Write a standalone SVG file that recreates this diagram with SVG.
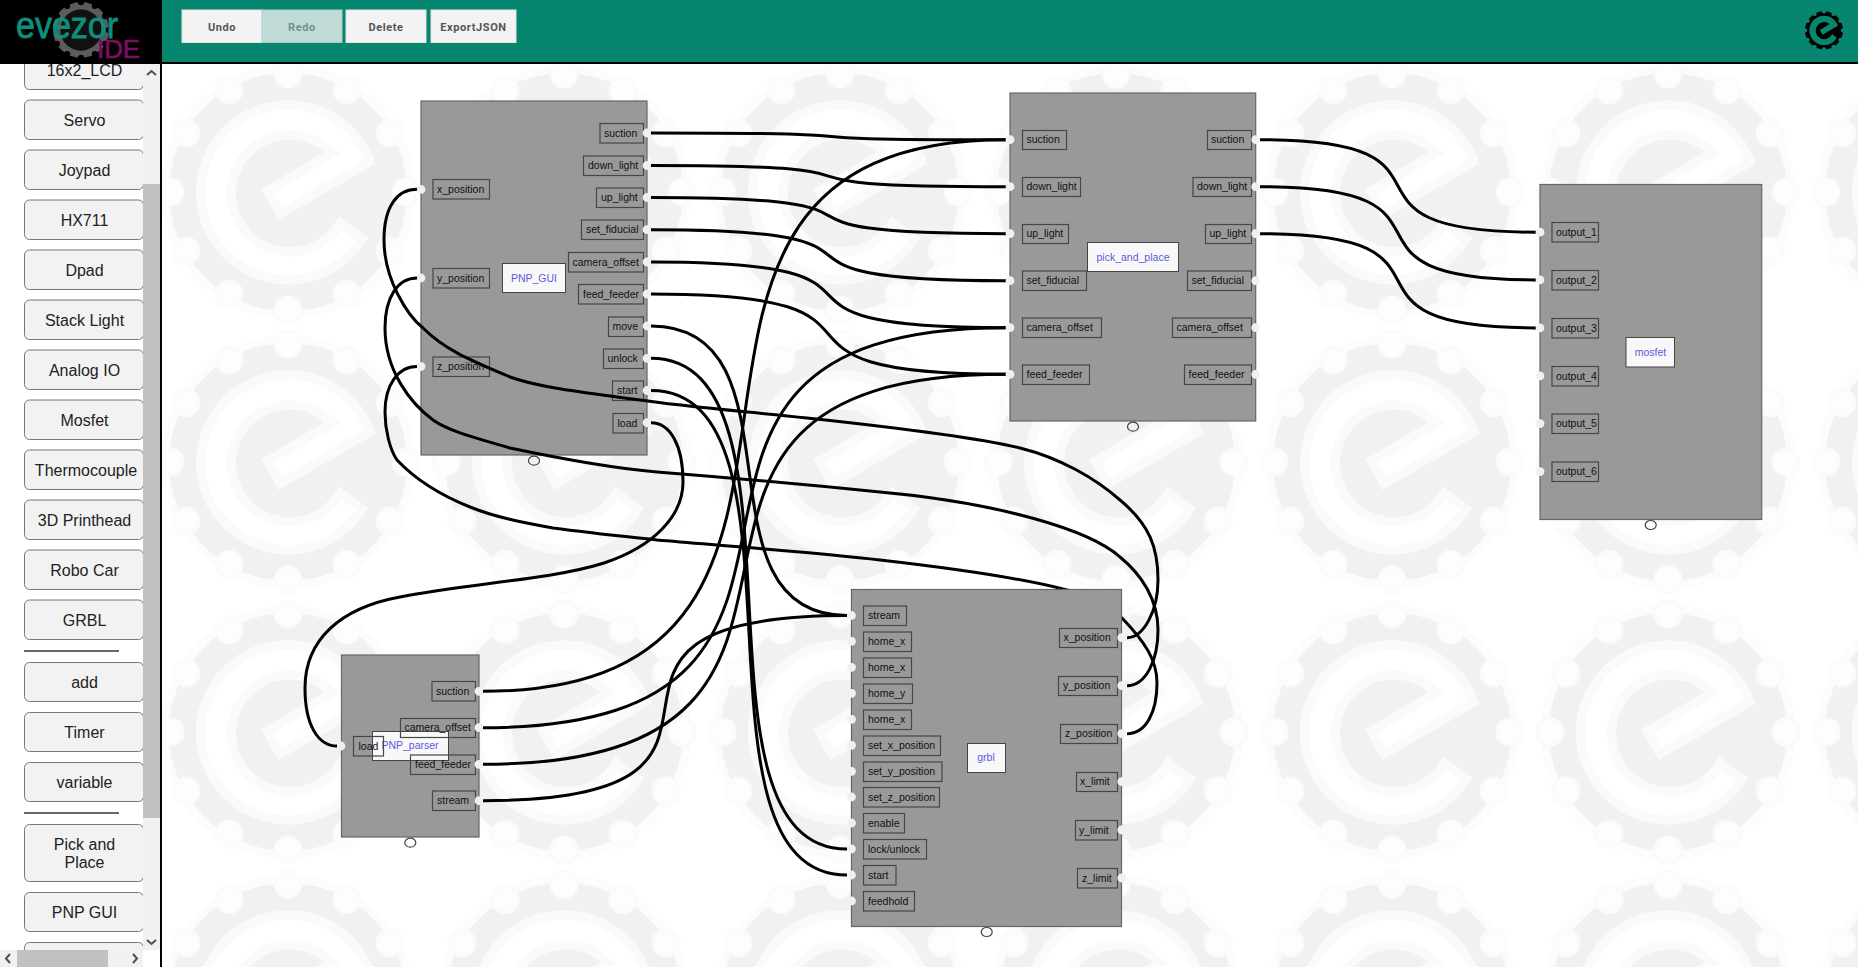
<svg xmlns="http://www.w3.org/2000/svg" xmlns:xlink="http://www.w3.org/1999/xlink" width="1858" height="967" viewBox="0 0 1858 967">
<style>
text{font-family:"Liberation Sans",Arial,sans-serif}
.block{fill:#999;stroke:#666;stroke-width:1.2}
.lb{fill:none;stroke:#474747;stroke-width:1.2}
.lt{font-size:10.5px;fill:#111}
.title{fill:#f8f8f8;stroke:#444;stroke-width:1}
.tt{font-size:10.5px;fill:#5a5add;text-anchor:middle}
.port{fill:#f0f0f0}
.handle{fill:none;stroke:#444;stroke-width:1.200}
.wire{fill:none;stroke:#000;stroke-width:3}
.sb{fill:#f2f2f2;stroke:#777;stroke-width:1}
.st{font-size:16px;fill:#222;text-anchor:middle}
.hb{fill:#f3f3f3;stroke:#e4e4e4;stroke-width:1}
.ht{font-family:Roboto,"Liberation Sans",sans-serif;font-size:11px;font-weight:700;fill:#555;text-anchor:middle;letter-spacing:.6px}
.chev{fill:none;stroke:#505050;stroke-width:2}
</style>
<defs>
<path id="ePath" d="M80 46A92 92 0 1 1 87.5 -28.3L-9.4 27.7L-26.8 -2.3L36.7 -40A54 54 0 1 0 50.8 24.3Z"/>
<clipPath id="eClip"><use xlink:href="#ePath" href="#ePath"/></clipPath>
<g id="teeth">
<circle cx="0" cy="-118" r="13"/><circle cx="59" cy="-102.2" r="13"/><circle cx="102.2" cy="-59" r="13"/><circle cx="118" cy="0" r="13"/><circle cx="102.2" cy="59" r="13"/><circle cx="59" cy="102.2" r="13"/><circle cx="0" cy="118" r="13"/><circle cx="-59" cy="102.2" r="13"/><circle cx="-102.2" cy="59" r="13"/><circle cx="-118" cy="0" r="13"/><circle cx="-102.2" cy="-59" r="13"/><circle cx="-59" cy="-102.2" r="13"/>
</g>
<pattern id="wm" patternUnits="userSpaceOnUse" x="150" y="57" width="276" height="270">
<g transform="translate(138 135)">
<circle r="127" fill="#fcfcfc"/>
<circle r="119" fill="#f1f1f1"/>
<use xlink:href="#teeth" href="#teeth" fill="#fdfdfd" stroke="#fbfbfb" stroke-width="3"/>
<use xlink:href="#ePath" href="#ePath" fill="#fff"/>
<g clip-path="url(#eClip)"><use xlink:href="#ePath" href="#ePath" fill="none" stroke="#fafafa" stroke-width="18"/></g>
</g>
</pattern>
</defs>

<rect id="canvas" x="162" y="64" width="1696" height="903" fill="#fff"/>
<rect x="162" y="64" width="1696" height="903" fill="url(#wm)"/>

<g id="sidebar">
<rect x="0" y="40" width="160" height="927" fill="#fff"/>
<g id="btn-lcd"><rect class="sb" x="24.5" y="50" width="119" height="39.5" rx="5"/><text class="st" x="84.5" y="76">16x2_LCD</text></g>
<g id="btn-servo"><rect class="sb" x="24.5" y="100" width="119" height="39.5" rx="5"/><text class="st" x="84.5" y="126">Servo</text></g>
<g id="btn-joypad"><rect class="sb" x="24.5" y="150" width="119" height="39.5" rx="5"/><text class="st" x="84.5" y="176">Joypad</text></g>
<g id="btn-hx711"><rect class="sb" x="24.5" y="200" width="119" height="39.5" rx="5"/><text class="st" x="84.5" y="226">HX711</text></g>
<g id="btn-dpad"><rect class="sb" x="24.5" y="250" width="119" height="39.5" rx="5"/><text class="st" x="84.5" y="276">Dpad</text></g>
<g id="btn-stack"><rect class="sb" x="24.5" y="300" width="119" height="39.5" rx="5"/><text class="st" x="84.5" y="326">Stack Light</text></g>
<g id="btn-analog"><rect class="sb" x="24.5" y="350" width="119" height="39.5" rx="5"/><text class="st" x="84.5" y="376">Analog IO</text></g>
<g id="btn-mosfet"><rect class="sb" x="24.5" y="400" width="119" height="39.5" rx="5"/><text class="st" x="84.5" y="426">Mosfet</text></g>
<g id="btn-thermo"><rect class="sb" x="24.5" y="450" width="119" height="39.5" rx="5"/><text class="st" x="86" y="476">Thermocouple</text></g>
<g id="btn-3d"><rect class="sb" x="24.5" y="500" width="119" height="39.5" rx="5"/><text class="st" x="84.5" y="526">3D Printhead</text></g>
<g id="btn-robo"><rect class="sb" x="24.5" y="550" width="119" height="39.5" rx="5"/><text class="st" x="84.5" y="576">Robo Car</text></g>
<g id="btn-grbl"><rect class="sb" x="24.5" y="600" width="119" height="39.5" rx="5"/><text class="st" x="84.5" y="626">GRBL</text></g>
<rect x="24" y="650" width="95" height="2" fill="#666"/>
<g id="btn-add"><rect class="sb" x="24.5" y="662.5" width="119" height="39" rx="5"/><text class="st" x="84.5" y="688">add</text></g>
<g id="btn-timer"><rect class="sb" x="24.5" y="712.5" width="119" height="39" rx="5"/><text class="st" x="84.5" y="738">Timer</text></g>
<g id="btn-variable"><rect class="sb" x="24.5" y="762.5" width="119" height="39" rx="5"/><text class="st" x="84.5" y="788">variable</text></g>
<rect x="24" y="812" width="95" height="2" fill="#666"/>
<g id="btn-pick"><rect class="sb" x="24.5" y="824.5" width="119" height="57" rx="5"/><text class="st" x="84.5" y="850">Pick and</text><text class="st" x="84.5" y="868">Place</text></g>
<g id="btn-pnp"><rect class="sb" x="24.5" y="892.5" width="119" height="39" rx="5"/><text class="st" x="84.5" y="918">PNP GUI</text></g>
<rect class="sb" x="24.5" y="942.5" width="119" height="39" rx="5"/>
<rect x="143" y="64" width="17" height="886" fill="#f1f1f1"/>
<rect x="143" y="184" width="17" height="634" fill="#c1c1c1"/>
<path class="chev" d="M147 75L151.500 71L156 75"/>
<path class="chev" d="M147 940L151.500 944L156 940"/>
<rect x="0" y="950" width="143" height="17" fill="#f1f1f1"/>
<rect x="143" y="950" width="17" height="17" fill="#fff"/>
<rect x="17" y="950" width="91" height="17" fill="#c1c1c1"/>
<path class="chev" d="M10 954L6 958.500L10 963"/>
<path class="chev" d="M133 954L137 958.500L133 963"/>
<rect x="160" y="64" width="2" height="903" fill="#000"/>
</g>

<g id="header">
<rect x="0" y="0" width="1858" height="62" fill="#07866f"/>
<rect x="0" y="62" width="1858" height="2" fill="#000"/>
<rect x="0" y="0" width="162" height="63" fill="#000"/>
<g id="logo">
<g transform="translate(81 30) scale(.235)"><circle r="119" fill="#5c5c5c"/><use xlink:href="#teeth" href="#teeth" fill="#000"/><circle r="88" fill="#111"/></g>
<text x="16" y="38" font-size="36" fill="#0d8f7c" stroke="#0d8f7c" stroke-width=".8" textLength="102" lengthAdjust="spacingAndGlyphs">evezor</text>
<text x="97" y="58" font-size="25" fill="#7d0f63" stroke="#7d0f63" stroke-width=".6" textLength="43" lengthAdjust="spacingAndGlyphs">IDE</text>
</g>
<g id="btn-undo"><rect class="hb" x="182" y="10" width="80" height="32.500"/><text class="ht" x="222" y="31">Undo</text></g>
<g id="btn-redo"><rect x="262" y="10" width="80" height="32.500" fill="#c1dcd6" stroke="#a9cdc5"/><text class="ht" x="302" y="31" style="fill:#6f918a">Redo</text></g>
<g id="btn-delete"><rect class="hb" x="346" y="10" width="80" height="32.500"/><text class="ht" x="386" y="31">Delete</text></g>
<g id="btn-export"><rect class="hb" x="431" y="10" width="85" height="32.500"/><text class="ht" x="473.500" y="31">ExportJSON</text></g>
<g id="icon" transform="translate(1824 30.400) scale(.16)"><circle r="119" fill="#000"/><use xlink:href="#teeth" href="#teeth" fill="#07866f"/><use xlink:href="#ePath" href="#ePath" fill="#07866f"/></g>
</g>

<g id="node-PNP_GUI">
<rect class="block" x="421" y="101" width="226" height="354"/>
<rect class="title" x="502.500" y="263.500" width="63" height="29"/><text class="tt" x="534" y="281.500">PNP_GUI</text>
<rect class="lb" x="433" y="179.500" width="56.500" height="19.500"/><text class="lt" x="437" y="192.500">x_position</text>
<rect class="lb" x="433" y="268.500" width="56.500" height="19.500"/><text class="lt" x="437" y="281.500">y_position</text>
<rect class="lb" x="433" y="357" width="56.500" height="19.500"/><text class="lt" x="437" y="370">z_position</text>
<rect class="lb" x="600" y="123.500" width="43.500" height="19.500"/><text class="lt" x="604" y="136.500">suction</text>
<rect class="lb" x="583.500" y="156" width="60" height="19.500"/><text class="lt" x="588" y="169">down_light</text>
<rect class="lb" x="596.500" y="188" width="47" height="19.500"/><text class="lt" x="601" y="201">up_light</text>
<rect class="lb" x="581.500" y="220" width="62" height="19.500"/><text class="lt" x="586" y="233">set_fiducial</text>
<rect class="lb" x="568.500" y="252.500" width="75" height="19.500"/><text class="lt" x="572.500" y="265.500">camera_offset</text>
<rect class="lb" x="578.500" y="284.500" width="65" height="19.500"/><text class="lt" x="583" y="297.500">feed_feeder</text>
<rect class="lb" x="608.500" y="317" width="35" height="19.500"/><text class="lt" x="612.500" y="330">move</text>
<rect class="lb" x="603.500" y="349" width="40" height="19.500"/><text class="lt" x="607.500" y="362">unlock</text>
<rect class="lb" x="612.500" y="381" width="31" height="19.500"/><text class="lt" x="617" y="394">start</text>
<rect class="lb" x="613" y="413.500" width="30.500" height="19.500"/><text class="lt" x="617.500" y="426.500">load</text>
<circle class="port" cx="421" cy="189.300" r="4.400"/><circle class="port" cx="421" cy="278" r="4.400"/><circle class="port" cx="421" cy="366.500" r="4.400"/>
<circle class="port" cx="647" cy="133" r="4.400"/><circle class="port" cx="647" cy="165.500" r="4.400"/><circle class="port" cx="647" cy="197.500" r="4.400"/><circle class="port" cx="647" cy="229.700" r="4.400"/><circle class="port" cx="647" cy="262" r="4.400"/><circle class="port" cx="647" cy="294" r="4.400"/><circle class="port" cx="647" cy="326" r="4.400"/><circle class="port" cx="647" cy="358.300" r="4.400"/><circle class="port" cx="647" cy="390.500" r="4.400"/><circle class="port" cx="647" cy="422.700" r="4.400"/>
<ellipse class="handle" cx="534" cy="460.700" rx="5.500" ry="4.500"/>
</g>

<g id="node-PNP_parser">
<rect class="block" x="341.500" y="655" width="137.500" height="182"/>
<rect class="title" x="372.500" y="731.500" width="76" height="29"/><text class="tt" x="410" y="749">PNP_parser</text>
<rect class="lb" x="353.500" y="736.500" width="30" height="19.500"/><text class="lt" x="358.500" y="749.500">load</text>
<rect class="lb" x="432" y="681.500" width="43.500" height="19.500"/><text class="lt" x="436" y="695">suction</text>
<rect class="lb" x="400.500" y="718.500" width="75" height="19"/><text class="lt" x="404.500" y="731">camera_offset</text>
<rect class="lb" x="410.500" y="755" width="65" height="19.500"/><text class="lt" x="415" y="768">feed_feeder</text>
<rect class="lb" x="432.500" y="791" width="43" height="19.500"/><text class="lt" x="437" y="804">stream</text>
<circle class="port" cx="341" cy="746" r="4.400"/>
<circle class="port" cx="479" cy="691.300" r="4.400"/><circle class="port" cx="479" cy="727.700" r="4.400"/><circle class="port" cx="479" cy="764.300" r="4.400"/><circle class="port" cx="479" cy="800.700" r="4.400"/>
<ellipse class="handle" cx="410.300" cy="842.700" rx="5.500" ry="4.500"/>
</g>

<g id="connectors">
<path class="wire" d="M651 133C941 133 716 139.700 1006 139.700"/>
<path class="wire" d="M651 165.500C941 165.500 716 186.700 1006 186.700"/>
<path class="wire" d="M651 197.500C941 197.500 716 233.700 1006 233.700"/>
<path class="wire" d="M651 229.700C941 229.700 716 280.700 1006 280.700"/>
<path class="wire" d="M651 262C941 262 716 327.700 1006 327.700"/>
<path class="wire" d="M651 294C936 294 721 374.300 1006 374.300"/>
<path class="wire" d="M483 691.300C928 691.300 561 139.700 1006 139.700"/>
<path class="wire" d="M483 727.700C928 727.700 561 327.700 1006 327.700"/>
<path class="wire" d="M483 764.300C928 764.300 561 374.300 1006 374.300"/>
<path class="wire" d="M483 800.700C818 800.700 512 615.500 847 615.500"/>
<path class="wire" d="M651 326C808 326 690 615.500 847 615.500"/>
<path class="wire" d="M651 358.300C821 358.300 677 849 847 849"/>
<path class="wire" d="M651 390.500C821 390.500 677 875 847 875"/>
<path class="wire" d="M651 422.700C670 422.700 683 445 683 482C683 515 655 546 604 563C550 580 470 583 400 597C340 608 305 640 305 688C305 725 318 746 337 746"/>
<path class="wire" d="M1127 637.700C1143 637.700 1158 612 1158 580C1158 548 1150 525 1120 500C1095 478 1060 458 1020 448C980 438 900 428 807 418C740 411 680 406 640 400C590 393 540 388 510 377C470 360 445 350 423 328C408 316 384 280 384 240C384 205 398 189.300 417 189.300"/>
<path class="wire" d="M1127 685.700C1146 685.700 1158 660 1158 630C1158 600 1142 575 1120 557C1090 530 1000 503 880 492C800 484 720 477 657 472C610 468 567 460 510 448C480 439 450 432 433 420C410 403 385 370 385 328C385 297 398 278 417 278"/>
<path class="wire" d="M1127 733.700C1146 733.700 1157 712 1157 683C1157 660 1145 642 1122 618C1105 602 1085 594 1063 589C1020 578 950 568 880 560C820 553 740 547 657 540C620 536 590 533 553 528C520 522 495 517 470 507C440 495 414 478 397 460C390 450 385 430 385 412C385 385 398 366.500 417 366.500"/>
<path class="wire" d="M1260 139.700C1486 139.700 1310 232.200 1536 232.200"/>
<path class="wire" d="M1260 186.700C1486 186.700 1310 279.900 1536 279.900"/>
<path class="wire" d="M1260 233.700C1486 233.700 1310 327.900 1536 327.900"/>
</g>

<g id="node-pick_and_place">
<rect class="block" x="1010" y="93" width="245.700" height="328"/>
<rect class="lb" x="1022.500" y="130.500" width="44" height="19"/><text class="lt" x="1026.500" y="143">suction</text>
<rect class="lb" x="1022.500" y="177.500" width="58" height="19"/><text class="lt" x="1026.500" y="190">down_light</text>
<rect class="lb" x="1022.500" y="224.500" width="46" height="19"/><text class="lt" x="1026.500" y="237">up_light</text>
<rect class="lb" x="1022.500" y="271" width="64" height="19.500"/><text class="lt" x="1026.500" y="284">set_fiducial</text>
<rect class="lb" x="1022.500" y="318" width="79" height="19.500"/><text class="lt" x="1026.500" y="331">camera_offset</text>
<rect class="lb" x="1022.500" y="365" width="67" height="19.500"/><text class="lt" x="1026.500" y="378">feed_feeder</text>
<rect class="lb" x="1207.500" y="130.500" width="44" height="19"/><text class="lt" x="1211" y="143">suction</text>
<rect class="lb" x="1193" y="177.500" width="58.500" height="19"/><text class="lt" x="1197" y="190">down_light</text>
<rect class="lb" x="1205.500" y="224.500" width="46" height="19"/><text class="lt" x="1209.500" y="237">up_light</text>
<rect class="lb" x="1187.500" y="271" width="64" height="19.500"/><text class="lt" x="1191.500" y="284">set_fiducial</text>
<rect class="lb" x="1172.500" y="318" width="79" height="19.500"/><text class="lt" x="1176.500" y="331">camera_offset</text>
<rect class="lb" x="1184.500" y="365" width="67" height="19.500"/><text class="lt" x="1188.500" y="378">feed_feeder</text>
<rect class="title" x="1087.500" y="242.500" width="91" height="29"/><text class="tt" x="1133" y="260.500">pick_and_place</text>
<circle class="port" cx="1010" cy="139.700" r="4.400"/><circle class="port" cx="1010" cy="186.700" r="4.400"/><circle class="port" cx="1010" cy="233.700" r="4.400"/><circle class="port" cx="1010" cy="280.700" r="4.400"/><circle class="port" cx="1010" cy="327.700" r="4.400"/><circle class="port" cx="1010" cy="374.300" r="4.400"/>
<circle class="port" cx="1255.700" cy="139.700" r="4.400"/><circle class="port" cx="1255.700" cy="186.700" r="4.400"/><circle class="port" cx="1255.700" cy="233.700" r="4.400"/><circle class="port" cx="1255.700" cy="280.700" r="4.400"/><circle class="port" cx="1255.700" cy="327.700" r="4.400"/><circle class="port" cx="1255.700" cy="374.300" r="4.400"/>
<ellipse class="handle" cx="1133" cy="426.700" rx="5.500" ry="4.500"/>
</g>

<g id="node-mosfet">
<rect class="block" x="1540" y="184.500" width="221.700" height="335"/>
<rect class="title" x="1626" y="337.500" width="48.500" height="29.500"/><text class="tt" x="1650.500" y="355.500">mosfet</text>
<rect class="lb" x="1552" y="222.500" width="46.500" height="19.500"/><text class="lt" x="1556" y="236">output_1</text>
<rect class="lb" x="1552" y="270.500" width="46.500" height="19.500"/><text class="lt" x="1556" y="283.500">output_2</text>
<rect class="lb" x="1552" y="318.500" width="46.500" height="19.500"/><text class="lt" x="1556" y="331.500">output_3</text>
<rect class="lb" x="1552" y="366.500" width="46.500" height="19.500"/><text class="lt" x="1556" y="379.500">output_4</text>
<rect class="lb" x="1552" y="414" width="46.500" height="19.500"/><text class="lt" x="1556" y="427">output_5</text>
<rect class="lb" x="1552" y="462" width="46.500" height="19.500"/><text class="lt" x="1556" y="475">output_6</text>
<circle class="port" cx="1540" cy="232.200" r="4.400"/><circle class="port" cx="1540" cy="279.900" r="4.400"/><circle class="port" cx="1540" cy="327.900" r="4.400"/><circle class="port" cx="1540" cy="375.900" r="4.400"/><circle class="port" cx="1540" cy="423.600" r="4.400"/><circle class="port" cx="1540" cy="471.600" r="4.400"/>
<ellipse class="handle" cx="1650.700" cy="525" rx="5.500" ry="4.500"/>
</g>

<g id="node-grbl">
<rect class="block" x="851.500" y="589.500" width="270" height="337"/>
<rect class="title" x="967.500" y="743.500" width="38" height="29"/><text class="tt" x="986" y="761">grbl</text>
<rect class="lb" x="863.500" y="606" width="43" height="19.500"/><text class="lt" x="868" y="619">stream</text>
<rect class="lb" x="863.500" y="632" width="48" height="19.500"/><text class="lt" x="868" y="645">home_x</text>
<rect class="lb" x="863.500" y="658" width="48" height="19.500"/><text class="lt" x="868" y="671">home_x</text>
<rect class="lb" x="863.500" y="684" width="49" height="19.500"/><text class="lt" x="868" y="697">home_y</text>
<rect class="lb" x="863.500" y="710" width="48" height="19.500"/><text class="lt" x="868" y="723">home_x</text>
<rect class="lb" x="863.500" y="736" width="77" height="19.500"/><text class="lt" x="868" y="749">set_x_position</text>
<rect class="lb" x="863.500" y="762" width="78.500" height="19.500"/><text class="lt" x="868" y="775">set_y_position</text>
<rect class="lb" x="863.500" y="787.500" width="76" height="19.500"/><text class="lt" x="868" y="800.500">set_z_position</text>
<rect class="lb" x="863.500" y="813.500" width="41" height="19.500"/><text class="lt" x="868" y="826.500">enable</text>
<rect class="lb" x="863.500" y="839.500" width="63" height="19.500"/><text class="lt" x="868" y="852.500">lock/unlock</text>
<rect class="lb" x="863.500" y="865.500" width="32.500" height="19.500"/><text class="lt" x="868" y="878.500">start</text>
<rect class="lb" x="863.500" y="891.500" width="51" height="19.500"/><text class="lt" x="868" y="904.500">feedhold</text>
<rect class="lb" x="1059.500" y="628.500" width="58" height="19"/><text class="lt" x="1063.500" y="641">x_position</text>
<rect class="lb" x="1058.500" y="676.500" width="59" height="19"/><text class="lt" x="1063" y="689">y_position</text>
<rect class="lb" x="1060.500" y="724.500" width="57" height="19"/><text class="lt" x="1065" y="737">z_position</text>
<rect class="lb" x="1076.500" y="772.500" width="41" height="19"/><text class="lt" x="1080" y="785">x_limit</text>
<rect class="lb" x="1075.500" y="820.500" width="42" height="19.500"/><text class="lt" x="1079" y="833.500">y_limit</text>
<rect class="lb" x="1077.500" y="868.500" width="40" height="19.500"/><text class="lt" x="1082" y="881.500">z_limit</text>
<circle class="port" cx="851.500" cy="615.500" r="4.400"/><circle class="port" cx="851.500" cy="641.300" r="4.400"/><circle class="port" cx="851.500" cy="667.300" r="4.400"/><circle class="port" cx="851.500" cy="693.300" r="4.400"/><circle class="port" cx="851.500" cy="719.300" r="4.400"/><circle class="port" cx="851.500" cy="745.300" r="4.400"/><circle class="port" cx="851.500" cy="771.300" r="4.400"/><circle class="port" cx="851.500" cy="797" r="4.400"/><circle class="port" cx="851.500" cy="823" r="4.400"/><circle class="port" cx="851.500" cy="849" r="4.400"/><circle class="port" cx="851.500" cy="875" r="4.400"/><circle class="port" cx="851.500" cy="901" r="4.400"/>
<circle class="port" cx="1121.700" cy="637.700" r="4.400"/><circle class="port" cx="1121.700" cy="685.700" r="4.400"/><circle class="port" cx="1121.700" cy="733.700" r="4.400"/><circle class="port" cx="1121.700" cy="781.700" r="4.400"/><circle class="port" cx="1121.700" cy="830" r="4.400"/><circle class="port" cx="1121.700" cy="878" r="4.400"/>
<ellipse class="handle" cx="986.700" cy="932" rx="5.500" ry="4.500"/>
</g>
</svg>
